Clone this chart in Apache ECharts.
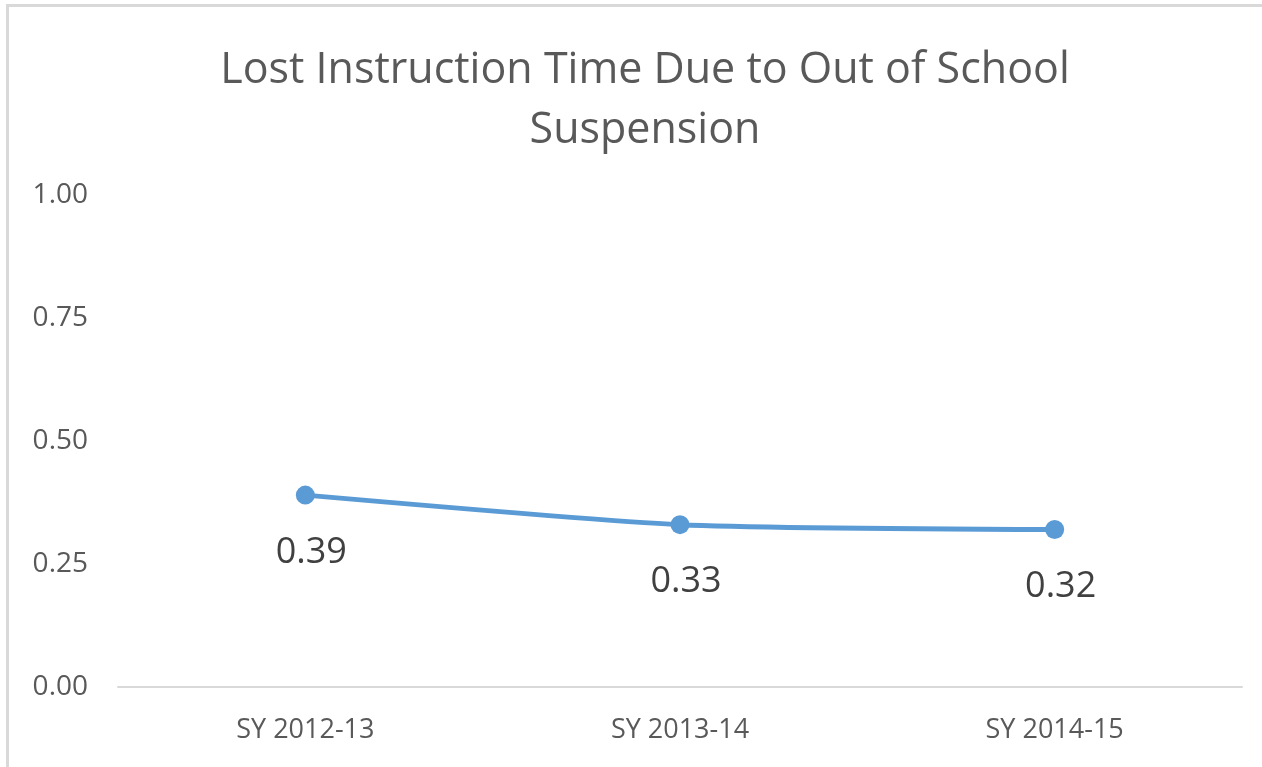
<!DOCTYPE html>
<html>
<head>
<meta charset="utf-8">
<script src="https://cdn.jsdelivr.net/npm/echarts@6/dist/echarts.min.js"></script>
<style>
  html, body { margin: 0; padding: 0; background: #fff; overflow: hidden; }
  #frame { position: absolute; left: 6px; top: 4px; width: 1300px; height: 800px; border-left: 3px solid #d9d9d9; border-top: 3px solid #d9d9d9; box-sizing: border-box; }
  #chart { position: absolute; left: 0; top: 0; width: 1262px; height: 767px; }
</style>
</head>
<body>
<div id="frame"></div>
<div id="chart"></div>
<script>
var categories = ['SY 2012-13', 'SY 2013-14', 'SY 2014-15'];
var lostTime = [0.39, 0.33, 0.32];
var yTicks = [0, 0.25, 0.5, 0.75, 1];

var chartDom = document.getElementById('chart');
var myChart = echarts.init(chartDom);
var font = '"Open Sans", "Noto Sans", sans-serif';

var option = {
    animation: false,
    title: {
        text: 'Lost Instruction Time Due to Out of School\nSuspension',
        left: 640,
        textAlign: 'center',
        top: 36,
        textStyle: { fontFamily: font, fontSize: 43, fontWeight: 'normal', color: '#595959', lineHeight: 60 }
    },
    grid: { left: 118, right: 20, top: 195, bottom: 80 },
    xAxis: {
        type: 'category',
        data: categories,
        boundaryGap: true,
        axisLine: { lineStyle: { color: '#d9d9d9', width: 2 } },
        axisTick: { show: false },
        axisLabel: { fontFamily: font, fontSize: 27, color: '#595959', margin: 30 }
    },
    yAxis: {
        type: 'value',
        min: yTicks[0],
        max: yTicks[yTicks.length - 1],
        interval: 0.25,
        axisLine: { show: false },
        axisTick: { show: false },
        splitLine: { show: false },
        axisLabel: {
            fontFamily: font, fontSize: 28, color: '#595959', margin: 30,
            formatter: function (v) { return v.toFixed(2); }
        }
    },
    series: [{
        type: 'line',
        data: lostTime,
        smooth: 0.2,
        symbol: 'circle',
        symbolSize: 19,
        lineStyle: { color: '#5b9bd5', width: 5 },
        itemStyle: { color: '#5b9bd5' },
        label: {
            show: true,
            position: 'bottom',
            distance: 30,
            offset: [6, 0],
            fontFamily: font,
            fontSize: 36,
            color: '#404040',
            formatter: function (p) { return p.value.toFixed(2); }
        }
    }]
};
myChart.setOption(option);

window.addEventListener('resize', function () {
    myChart.resize();
});
</script>
</body>
</html>
